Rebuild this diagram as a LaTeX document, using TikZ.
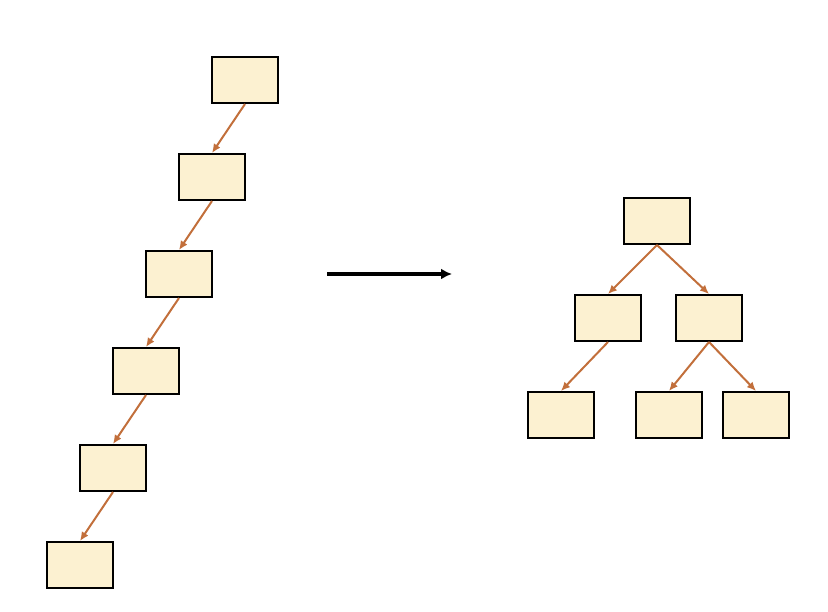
\documentclass[tikz,border=0pt]{standalone}
\usetikzlibrary{arrows.meta}
\definecolor{boxfill}{HTML}{FCF1D1}
\definecolor{linkcol}{HTML}{C26F3B}
\tikzset{
  cell/.style={draw=black,line width=2pt,fill=boxfill,minimum width=66pt,minimum height=46pt,inner sep=0pt},
  link/.style={draw=linkcol,line width=2pt,-{Latex[length=9pt,width=8pt]}}
}
\begin{document}
\begin{tikzpicture}[x=1pt,y=-1pt]
\useasboundingbox (0,0) rectangle (828,612);
% degenerate chain
\foreach \i/\x/\y in {1/245/80,2/212/177,3/179/274,4/146/371,5/113/468,6/80/565}
  \node[cell] (c\i) at (\x,\y) {};
\foreach \i/\j in {1/2,2/3,3/4,4/5,5/6}
  \draw[link] (c\i.south) -- (c\j.north);

\coordinate (from) at (327,274);
\coordinate (to) at (452,274);
\draw[line width=3.5pt,-{Latex[length=11pt,width=11pt]}] (from) -- (to);

% balanced tree
\node[cell] (root) at (657,221) {};
\node[cell] (l) at (608,318) {};
\node[cell] (r) at (709,318) {};
\node[cell] (ll) at (561,415) {};
\node[cell] (rl) at (669,415) {};
\node[cell] (rr) at (756,415) {};
\draw[link] (root.south) -- (l.north);
\draw[link] (root.south) -- (r.north);
\draw[link] (l.south) -- (ll.north);
\draw[link] (r.south) -- (rl.north);
\draw[link] (r.south) -- (rr.north);
\end{tikzpicture}
\end{document}
